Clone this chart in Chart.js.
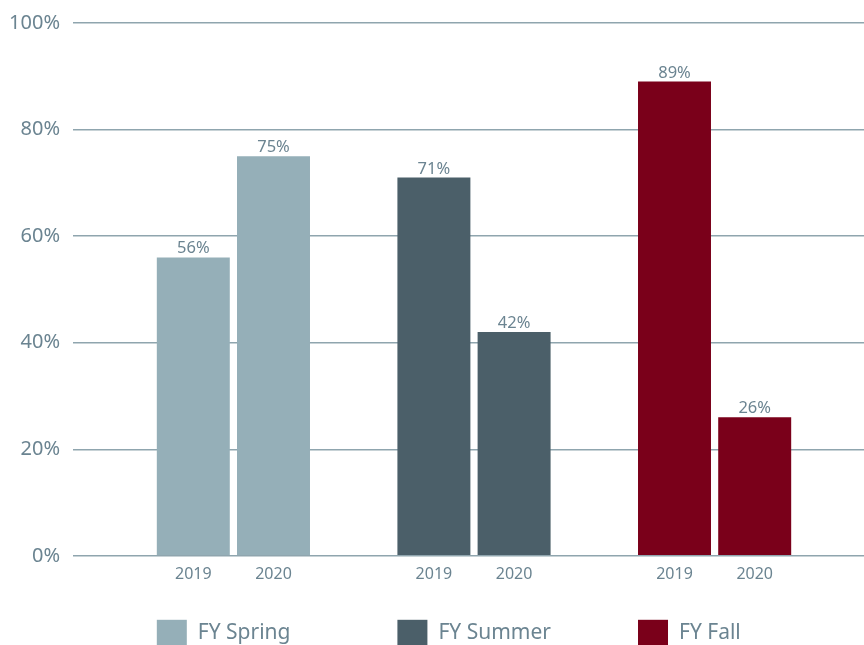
<!DOCTYPE html>
<html>
<head>
<meta charset="utf-8">
<script src="https://cdn.jsdelivr.net/npm/chart.js@4"></script>
<style>
  html, body { margin: 0; padding: 0; background: #fff; overflow: hidden; }
  #wrap { width: 875px; height: 645px; position: relative; }
</style>
</head>
<body>
<div id="wrap"><canvas id="grafico"></canvas></div>
<script>
// Dados do gráfico
const anos = ['2019', '2020'];
const series = ['FY Spring', 'FY Summer', 'FY Fall'];
const valoresSpring = [56, 75];
const valoresSummer = [71, 42];
const valoresFall = [89, 26];
const ticksY = [0, 20, 40, 60, 80, 100];

const cores = ['#95AFB8', '#4B5F69', '#7A001A'];
const corTexto = '#6B8491';
const fonte = '"Noto Sans", "Open Sans", sans-serif';

// Montar categorias com espaços entre os grupos
const labels = [''];
const valores = [valoresSpring, valoresSummer, valoresFall];
const datasets = series.map((nome, i) => ({ label: nome, data: [null], backgroundColor: cores[i] }));
valores.forEach((vals, g) => {
    anos.forEach((ano, k) => {
        labels.push(ano);
        datasets.forEach((ds, i) => ds.data.push(i === g ? vals[k] : null));
    });
    labels.push('');
    datasets.forEach(ds => ds.data.push(null));
});

// Rótulos de valor acima das barras
const rotulos = {
    id: 'rotulos',
    afterDatasetsDraw(chart) {
        const ctx = chart.ctx;
        ctx.save();
        ctx.font = '16.5px ' + fonte;
        ctx.fillStyle = corTexto;
        ctx.textAlign = 'center';
        ctx.textBaseline = 'alphabetic';
        chart.data.datasets.forEach((ds, i) => {
            chart.getDatasetMeta(i).data.forEach((bar, j) => {
                if (ds.data[j] == null) return;
                ctx.fillText(ds.data[j] + '%', bar.x, bar.y - 4);
            });
        });
        ctx.restore();
    }
};

// Legenda alinhada com a primeira barra de cada grupo
const legenda = {
    id: 'legenda',
    afterDraw(chart) {
        const ctx = chart.ctx;
        ctx.save();
        ctx.font = '21px ' + fonte;
        ctx.textBaseline = 'alphabetic';
        chart.data.datasets.forEach((ds, i) => {
            const meta = chart.getDatasetMeta(i);
            const j = ds.data.findIndex(v => v != null);
            const bar = meta.data[j];
            const x = bar.x - bar.width / 2;
            const y = chart.chartArea.bottom + 64;
            ctx.fillStyle = ds.backgroundColor;
            ctx.fillRect(x, y, 30, 28);
            ctx.fillStyle = corTexto;
            ctx.fillText(ds.label, x + 41, y + 19);
        });
        ctx.restore();
    }
};

new Chart(document.getElementById('grafico').getContext('2d'), {
    type: 'bar',
    data: { labels: labels, datasets: datasets },
    options: {
        responsive: true,
        maintainAspectRatio: false,
        animation: false,
        layout: { padding: { top: 21, bottom: 60, left: 0, right: 0 } },
        datasets: {
            bar: { grouped: false, barPercentage: 0.91, categoryPercentage: 1 }
        },
        plugins: {
            legend: { display: false },
            tooltip: { enabled: false }
        },
        scales: {
            x: {
                grid: { display: false },
                border: { display: false },
                ticks: { color: corTexto, font: { family: fonte, size: 16 }, padding: 1, maxRotation: 0, autoSkip: false }
            },
            y: {
                min: 0,
                max: 100,
                afterBuildTicks(axis) { axis.ticks = ticksY.map(v => ({ value: v })); },
                afterFit(axis) { axis.width = 73; },
                grid: { color: '#8FA5AE', lineWidth: 1.4, drawTicks: false },
                border: { display: false },
                ticks: {
                    color: corTexto,
                    font: { family: fonte, size: 20, lineHeight: 1 },
                    padding: 13,
                    callback: v => v + '%'
                }
            }
        }
    },
    plugins: [rotulos, legenda]
});
</script>
</body>
</html>
